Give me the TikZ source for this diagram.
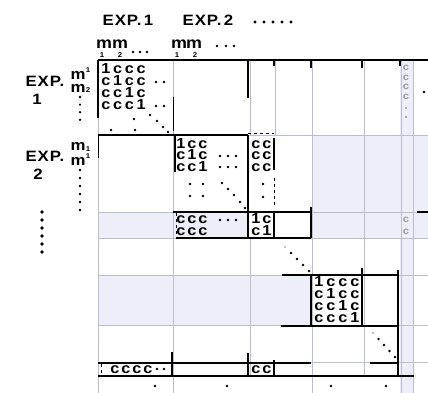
\documentclass[tikz,border=0pt]{standalone}
\usepackage{fontspec}
\setmainfont{Liberation Sans}[FakeStretch=1.12, LetterSpace=6]
\usepackage{tikz}
\usetikzlibrary{positioning}
\definecolor{gridgray}{RGB}{184,190,206}
\definecolor{scanblue}{RGB}{236,239,248}
\definecolor{fadec}{RGB}{150,152,160}

\tikzset{
  lbl/.style={font=\bfseries\fontsize{15}{15}\selectfont, inner sep=0pt},
  mlbl/.style={font=\bfseries\fontsize{16}{16}\selectfont, inner sep=0pt},
  idx/.style={font=\bfseries\fontsize{7}{7}\selectfont, inner sep=0pt},
  entry/.style={font=\bfseries\fontsize{14.5}{14.5}\selectfont, inner sep=0pt, anchor=base},
  fadeentry/.style={entry, fadec, font=\bfseries\fontsize{10}{10}\selectfont},
  rule/.style={line width=1.4pt},
  thinrule/.style={line width=0.8pt},
  faint/.style={gridgray, line width=0.9pt},
}
\newcommand{\dotp}[1]{\fill #1 circle (1.3);}

\begin{document}
\begin{tikzpicture}[x=1pt, y=-1pt]
  \useasboundingbox (0,0) rectangle (428,393);

  % faint shading and grid lines of the print
  \fill[scanblue] (312,135) rectangle (428,238);
  \fill[scanblue] (98,212) rectangle (248,238);
  \fill[scanblue] (98,275) rectangle (311,325);
  \fill[scanblue] (400,60) rectangle (414,393);
  \foreach \x in {98,173,312,401,413} \draw[faint] (\x,60) -- (\x,393);
  \draw[faint] (364,60) -- (364,376);
  \draw[faint] (250,60) -- (250,135) (275,60) -- (275,135) (250,238) -- (250,376);
  \draw[faint] (248,135) -- (428,135);
  \foreach \y in {212,238,275,325,362} \draw[faint] (98,\y) -- (428,\y);

  % column and row headings
  \node[lbl] (top1) at (128,20) {EXP.\,1};
  \node[lbl] (top2) at (208,20) {EXP.\,2};
  \foreach \x in {0,...,4} \fill (255+9*\x,22) circle (1.6);
  \node[mlbl] (mA1) at (104,44) {m};
  \node[mlbl] (mA2) at (120,44) {m};
  \node[idx] (sA1) at (102,55) {1};
  \node[idx] (sA2) at (120,55) {2};
  \foreach \x in {133,140,147} {\dotp{(\x,52)}}
  \node[mlbl] (mB1) at (179,44) {m};
  \node[mlbl] (mB2) at (194,44) {m};
  \node[idx] (sB1) at (177,55) {1};
  \node[idx] (sB2) at (195,55) {2};
  \foreach \x in {217,226,234} {\dotp{(\x,46)}}

  \node[lbl] (left1) at (45,81) {EXP.};
  \node[lbl] (num1) at (37,99) {1};
  \node[lbl] (left2) at (45,156) {EXP.};
  \node[lbl] (num2) at (38,174) {2};
  \node[lbl] (mL1) at (78,75) {m};
  \node[idx] (sL1) at (88,70) {1};
  \node[lbl] (mL2) at (78,88) {m};
  \node[idx] (sL2) at (88,90) {2};
  \foreach \i in {0,...,3} {\dotp{(80,97+7.6*\i)}}
  \node[lbl] (mL3) at (78,146) {m};
  \node[idx] (sL3) at (88,149) {1};
  \node[lbl] (mL4) at (78,161) {m};
  \node[idx] (sL4) at (88,156) {1};
  \foreach \i in {0,...,5} {\dotp{(80,170+8*\i)}}
  \foreach \i in {0,...,5} \fill (42,212+8*\i) circle (1.8);

  % entries
  \foreach \r in {0,...,3} \foreach \c in {0,...,3} {
    \ifnum\r=\c \def\ch{1}\else\def\ch{c}\fi
    \node[entry] (ea-\r\c) at ({106+11.7*\c},{74+12*\r}) {\ch};
    \node[entry] (ec-\r\c) at ({319+12*\c},{286+12*\r}) {\ch};
  }
  \foreach \r in {0,...,2} \foreach \c in {0,...,2} {
    \ifnum\r=\c \def\ch{1}\else\def\ch{c}\fi
    \node[entry] (eb-\r\c) at ({181+11*\c},{148+11.5*\r}) {\ch};
  }
  \foreach \r in {0,...,2} \foreach \c in {0,1}
    \node[entry] (cc-\r\c) at ({256+11*\c},{148+11.5*\r}) {c};
  \foreach \r in {0,1} {
    \foreach \c in {0,...,2}
      \node[entry] (cr-\r\c) at ({181+11*\c},{223+12*\r}) {c};
    \foreach \c in {0,1} {
      \ifnum\r=\c \def\ch{1}\else\def\ch{c}\fi
      \node[entry] (ed-\r\c) at ({256+11*\c},{223+12*\r}) {\ch};
    }
  }
  \foreach \c in {0,...,3} \node[entry] (bt-\c) at ({115+11*\c},373) {c};
  \foreach \c in {0,1} \node[entry] (bc-\c) at ({256+11*\c},373) {c};
  \foreach \i in {0,...,3} \node[fadeentry] (gc-\i) at (406,{71+9.5*\i}) {c};
  \foreach \i in {0,1} \node[fadeentry] (gd-\i) at (406,{222+12*\i}) {c};
  \fill[fadec] (406,108) circle (1.1) (406,117) circle (1.1);

  % dots inside the blocks
  \foreach \x in {156,164} {\dotp{(\x,82)} \dotp{(\x,106)}}
  \foreach \p in {(134,119),(111,130),(135,130),(150,115),(157,121),(163,127),(168,132)} {\dotp{\p}}
  \foreach \x in {220,228,236} {\dotp{(\x,156)} \dotp{(\x,167)} \dotp{(\x,220)}}
  \foreach \p in {(190,184),(203,184),(190,196),(203,196),(263,184),(263,197)} {\dotp{\p}}
  \foreach \p in {(222,183),(228,189),(234,195),(240,202),(245,208)} {\dotp{\p}}
  \foreach \i in {1,...,4} {\dotp{(285+6*\i,247+6*\i)} \dotp{(373+5.5*\i,333+6*\i)}}
  \fill[gridgray] (285,247) circle (1.3) (373,333) circle (1.3);
  \foreach \x in {157,164} {\dotp{(\x,369)}}
  \foreach \x in {155,227,331,386} {\dotp{(\x,386)}}
  \dotp{(424,92)}

  % block rules
  \draw[rule] (98,60) -- (428,60);
  \foreach \x/\l in {274/6,311/8,362/8,400/6} \draw[rule] (\x,60) -- (\x,60+\l);
  \draw[rule] (98,60) -- (98,118);
  \draw[thinrule] (98,135) -- (98,158);
  \draw[thinrule] (173,97) -- (173,131);
  \draw[rule] (248,60) -- (248,98);
  \draw[rule] (98,135) -- (248,135);
  \draw[rule] (175,135) -- (175,172);
  \draw[rule] (248,135) -- (248,212);
  \draw[thinrule, dashed] (248,133) -- (274,133);
  \draw[rule] (274,138) -- (274,170);
  \draw[thinrule, dashed] (274,178) -- (274,206);
  \draw[rule] (173,212) -- (311,212);
  \draw[rule] (417,212) -- (428,212);
  \draw[thinrule, dashed] (176,213) -- (176,237);
  \draw[rule] (248,212) -- (248,238) (274,212) -- (274,238) (311,207) -- (311,238);
  \draw[rule] (176,238) -- (311,238);
  \draw[rule] (282,275) -- (398,275) (281,326) -- (398,326);
  \draw[rule] (311,275) -- (311,326) (362,268) -- (362,326) (398,270) -- (398,376);
  \draw[rule] (370,363) -- (398,363);
  \draw[rule] (98,363) -- (311,363) (98,376) -- (414,376);
  \draw[thinrule, dashed] (101,364) -- (101,375);
  \draw[rule] (172,352) -- (172,376) (248,353) -- (248,376) (274,360) -- (274,376);
\end{tikzpicture}
\end{document}
